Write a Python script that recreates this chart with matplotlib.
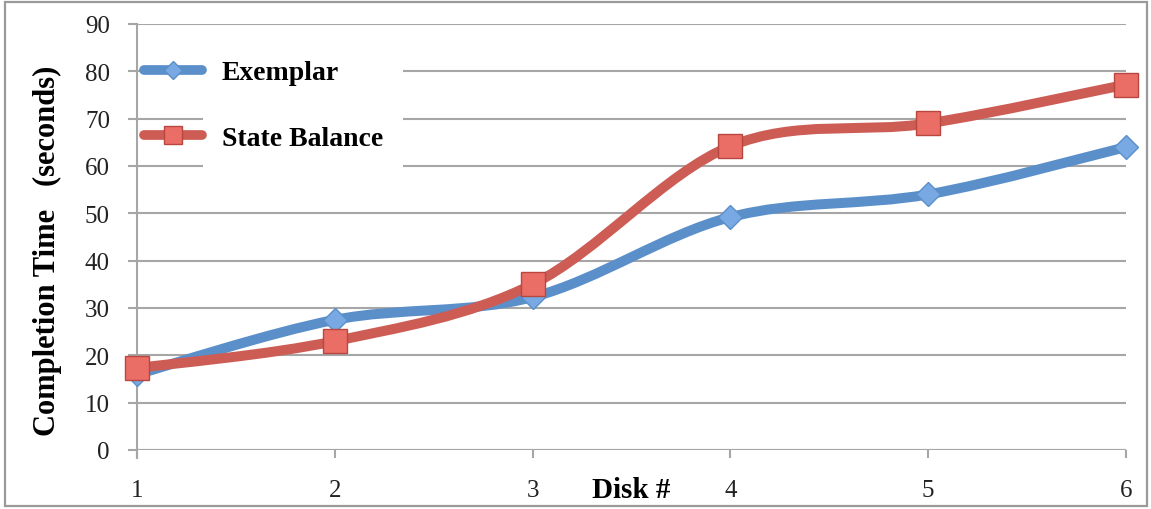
import numpy as np
import matplotlib
matplotlib.use("Agg")
import matplotlib.pyplot as plt
from matplotlib.path import Path
from matplotlib.patches import PathPatch, Rectangle
from matplotlib.lines import Line2D
from matplotlib.transforms import blended_transform_factory

# disk count vs completion time
disks = [1, 2, 3, 4, 5, 6]
exemplar = [16, 27.5, 32.3, 49.2, 54, 64]
state_balance = [17.3, 23, 35, 64.2, 69, 77.2]

blue = "#5a8fca"
blue_fill = "#78a9e2"
red = "#cd5c55"
red_fill = "#ea6d66"
grid_col = "#a6a6a6"

plt.rcParams['font.family'] = ['Liberation Serif', 'DejaVu Serif']


def smooth_path(xs, ys, t=1.0 / 6):
    # excel style smoothed line: cubic bezier through every point
    pts = np.column_stack([xs, ys]).astype(float)
    n = len(pts)
    verts = [pts[0]]
    codes = [Path.MOVETO]
    for i in range(n - 1):
        p0 = pts[i - 1] if i > 0 else pts[i]
        p1 = pts[i]
        p2 = pts[i + 1]
        p3 = pts[i + 2] if i + 2 < n else pts[i + 1]
        c1 = p1 + (p2 - p0) * t
        c2 = p2 - (p3 - p1) * t
        verts += [c1, c2, p2]
        codes += [Path.CURVE4] * 3
    return Path(verts, codes)


fig = plt.figure(figsize=(11.51, 5.10), dpi=100)
ax = fig.add_axes([137 / 1151, 1 - 451 / 510, 989 / 1151, 426 / 510])

# outer chart frame
fig.patches.append(Rectangle((5 / 1151, 3 / 510), 1142 / 1151, 504 / 510,
                             transform=fig.transFigure, fill=False,
                             edgecolor="#9a9a9a", linewidth=1.6))

ax.set_xlim(1, 6)
ax.set_ylim(0, 90)
ax.set_yticks(range(0, 91, 10))
ax.set_xticks(disks)
ax.yaxis.grid(True, color=grid_col, linewidth=1.5)
ax.set_axisbelow(True)
for s in ["top", "right", "bottom"]:
    ax.spines[s].set_visible(False)
ax.spines["left"].set_color(grid_col)
ax.spines["left"].set_linewidth(1.5)
ax.spines["left"].set_bounds(-1.7, 90)
ax.tick_params(axis="y", length=6.5, width=1.5, color=grid_col, pad=13,
               labelsize=18, labelcolor="#222222")
ax.tick_params(axis="x", length=6, width=1.5, color=grid_col, pad=15,
               labelsize=18, labelcolor="#222222")
ax.axhline(0, color=grid_col, linewidth=1.5, zorder=1)

# white box behind the legend text
ax.add_patch(Rectangle((0.0667, 57.5), 0.202, 27,
                       transform=blended_transform_factory(ax.transAxes, ax.transData),
                       facecolor="white", edgecolor="none", zorder=1.5))

# lines
ax.add_patch(PathPatch(smooth_path(disks, exemplar), facecolor="none", edgecolor=blue,
                       linewidth=7.2, capstyle="round", joinstyle="round", zorder=3))
ax.plot(disks, exemplar, linestyle="none", marker="D", markersize=12,
        markerfacecolor=blue_fill, markeredgecolor=blue, markeredgewidth=1, zorder=4,
        clip_on=False)
ax.add_patch(PathPatch(smooth_path(disks, state_balance), facecolor="none", edgecolor=red,
                       linewidth=7.2, capstyle="round", joinstyle="round", zorder=5))
ax.plot(disks, state_balance, linestyle="none", marker="s", markersize=17,
        markerfacecolor=red_fill, markeredgecolor="#b8473f", markeredgewidth=1, zorder=6,
        clip_on=False)

handles = [
    Line2D([], [], color=blue, linewidth=7, solid_capstyle="round", marker="D",
           markersize=9, markerfacecolor=blue_fill, markeredgecolor=blue),
    Line2D([], [], color=red, linewidth=7, solid_capstyle="round", marker="s",
           markersize=13, markerfacecolor=red_fill, markeredgecolor="#b8473f"),
]
leg = ax.legend(handles, ["Exemplar", "State Balance"], loc="upper left",
                bbox_to_anchor=(144 / 1151, 1 - 61 / 510), bbox_transform=fig.transFigure,
                frameon=False, handlelength=2.1, handletextpad=0.7, labelspacing=1.45,
                borderpad=0, borderaxespad=0,
                prop={"weight": "bold", "size": 20})
leg.set_zorder(7)

ax.set_ylabel("Completion Time   (seconds)", fontsize=22, fontweight="bold")
ax.yaxis.set_label_coords(-0.076, 0.47)
ax.set_xlabel("Disk #", fontsize=21, fontweight="bold")
ax.xaxis.set_label_coords(0.5, -0.06)

fig.savefig("out.png", dpi=100)
